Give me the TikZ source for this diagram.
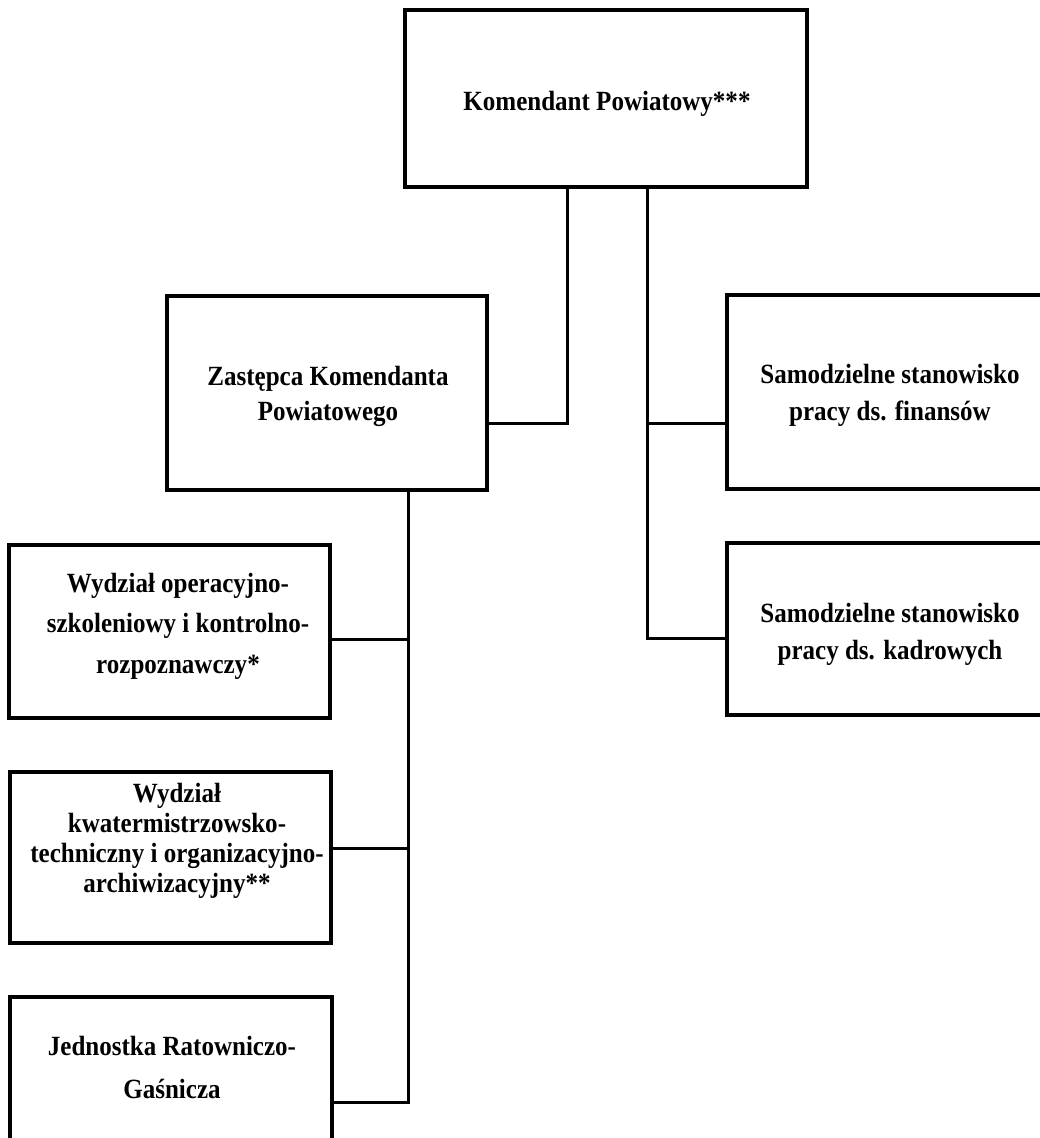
\documentclass[tikz,border=0pt]{standalone}
\usepackage{fontspec}
\setmainfont{Liberation Serif}[FakeStretch=0.9]
\begin{document}
\begin{tikzpicture}[x=1pt,y=-1pt,
  box/.style={draw=black,line width=3.2pt,fill=white,rectangle,inner sep=0pt,minimum width=#1},
  conn/.style={draw=black,line width=3pt,line join=miter},
  txt/.style={align=center,anchor=base,inner sep=0pt,font=\bfseries\fontsize{27.8}{#1}\selectfont}
]
\useasboundingbox[fill=white] (0,0) rectangle (1040,1138);
% boxes
\node[box=402pt,minimum height=177pt] (kp) at (606,98.5) {};
\node[box=320pt,minimum height=194pt] (zk) at (327,393) {};
\node[box=326pt,minimum height=194pt] (sf) at (890,392) {};
\node[box=326pt,minimum height=172pt] (sk) at (890,629) {};
\node[box=321pt,minimum height=173pt] (wo) at (169.5,631.5) {};
\node[box=321pt,minimum height=171pt] (wk) at (170.5,857.5) {};
\node[box=322pt,minimum height=173pt] (jr) at (171,1083.5) {};
% texts (base anchor = baseline of the last line)
\node[txt=37pt] (kpt) at (607,110) {Komendant Powiatowy***};
\node[txt=35pt] (zkt) at (328,420) {Zastępca Komendanta\\Powiatowego};
\node[txt=37pt] (sft) at (890,420) {Samodzielne stanowisko\\pracy ds. finansów};
\node[txt=37pt] (skt) at (890,659) {Samodzielne stanowisko\\pracy ds. kadrowych};
\node[txt=40.5pt] (wot) at (178,673) {Wydział operacyjno-\\szkoleniowy i kontrolno-\\rozpoznawczy*};
\node[txt=30pt] (wkt) at (177,892) {Wydział\\kwatermistrzowsko-\\techniczny i organizacyjno-\\archiwizacyjny**};
\node[txt=43pt] (jrt) at (172,1098) {Jednostka Ratowniczo-\\Gaśnicza};
% connectors
\coordinate (tR) at ([xshift=41pt]kp.south);
\coordinate (tLtop) at ([xshift=-39pt]kp.south);
\coordinate (zkin) at ([yshift=-30pt]zk.east);
\coordinate (sfin) at ([yshift=-31pt]sf.west);
\coordinate (skin) at ([yshift=-9pt]sk.west);
\draw[conn] (tLtop) |- (zkin);
\draw[conn] (tR) |- (skin);
\draw[conn] (sfin) -- (sfin -| tR);
\coordinate (tL) at ([xshift=81pt]zk.south);
\coordinate (woin) at ([yshift=-7.5pt]wo.east);
\coordinate (wkin) at ([yshift=9.5pt]wk.east);
\coordinate (jrin) at ([yshift=-18.5pt]jr.east);
\draw[conn] (tL) |- (jrin);
\draw[conn] (woin) -- (woin -| tL);
\draw[conn] (wkin) -- (wkin -| tL);
\end{tikzpicture}
\end{document}
